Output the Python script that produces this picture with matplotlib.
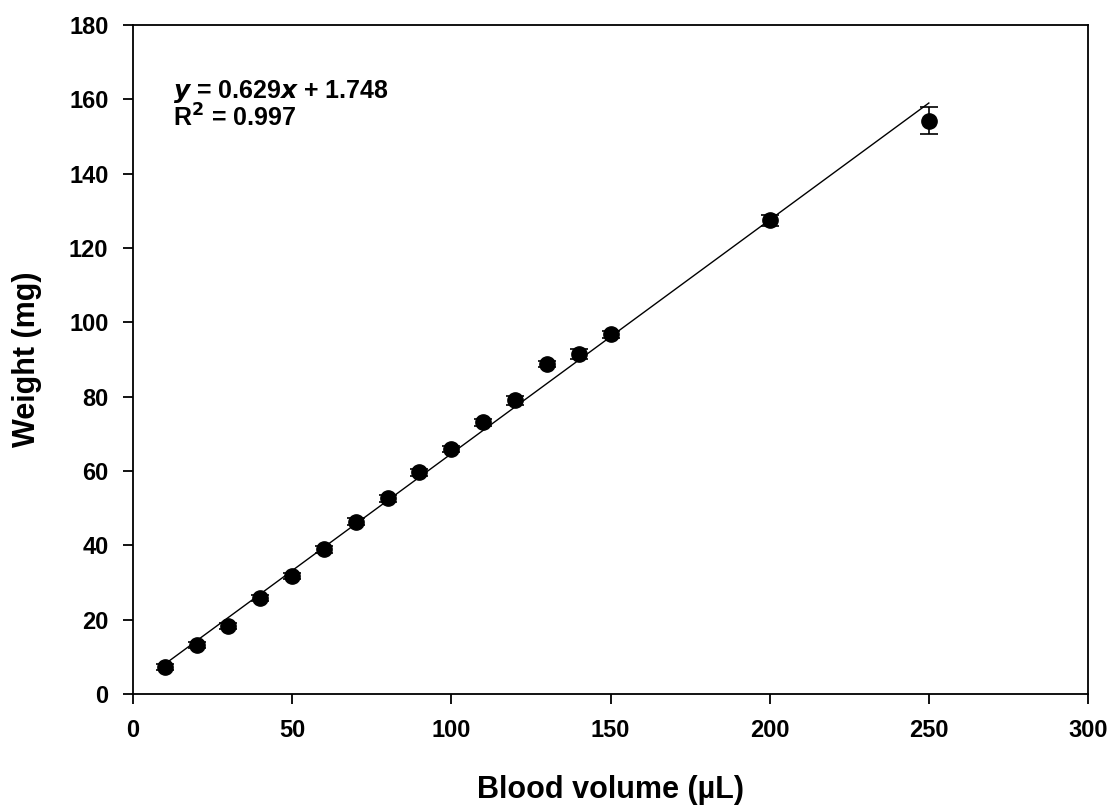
import numpy as np
import matplotlib
matplotlib.use('Agg')
import matplotlib.pyplot as plt

plt.rcParams['font.family'] = ['Liberation Sans', 'DejaVu Sans']
plt.rcParams['font.weight'] = 'bold'

# Datos
volume = [10, 20, 30, 40, 50, 60, 70, 80, 90, 100, 110, 120, 130, 140, 150, 200, 250]
weight = [7.3, 13.2, 18.4, 25.9, 31.8, 38.9, 46.4, 52.6, 59.6, 65.8, 73.1, 79.0, 88.8, 91.4, 96.8, 127.4, 154.2]
weight_err = [0.8, 0.8, 0.8, 0.8, 0.8, 0.9, 1.0, 1.0, 1.0, 0.8, 0.9, 1.2, 0.9, 1.3, 0.9, 1.5, 3.6]
slope = 0.629
intercept = 1.748
r2 = 0.997

fig = plt.figure(figsize=(11.1, 8.05), dpi=100)
ax = fig.add_axes([0.1198, 0.1379, 0.8604, 0.8311])

ax.errorbar(volume, weight, yerr=weight_err, fmt='o', color='black',
            markersize=11, capsize=6.5, elinewidth=1.2, capthick=1.2, zorder=3)

fit_x = np.array([min(volume), max(volume)])
ax.plot(fit_x, slope * fit_x + intercept, color='black', linewidth=1)

ax.text(12.6, 162.2, r'$\mathbf{\mathit{y}}$ = %.3f$\mathbf{\mathit{x}}$ + %.3f' % (slope, intercept),
        fontsize=18, fontweight='bold', va='center')
ax.text(12.6, 155.0, 'R$^{2}$ = %.3f' % r2, fontsize=18, fontweight='bold', va='center')

ax.set_xlim(0, 300)
ax.set_ylim(0, 180)
ax.set_xticks(range(0, 301, 50))
ax.set_yticks(range(0, 181, 20))
ax.tick_params(direction='out', length=7.2, width=1.3, labelsize=17, pad=10.5)
for s in ax.spines.values():
    s.set_linewidth(1.3)

ax.set_xlabel('Blood volume (µL)', fontsize=22, fontweight='bold')
ax.set_ylabel('Weight (mg)', fontsize=22, fontweight='bold')
ax.xaxis.set_label_coords(0.5, -0.1435)
ax.xaxis.label.set_va('center')
ax.yaxis.set_label_coords(-0.111, 0.5)
ax.yaxis.label.set_va('center')

plt.savefig('out.png', dpi=100)
